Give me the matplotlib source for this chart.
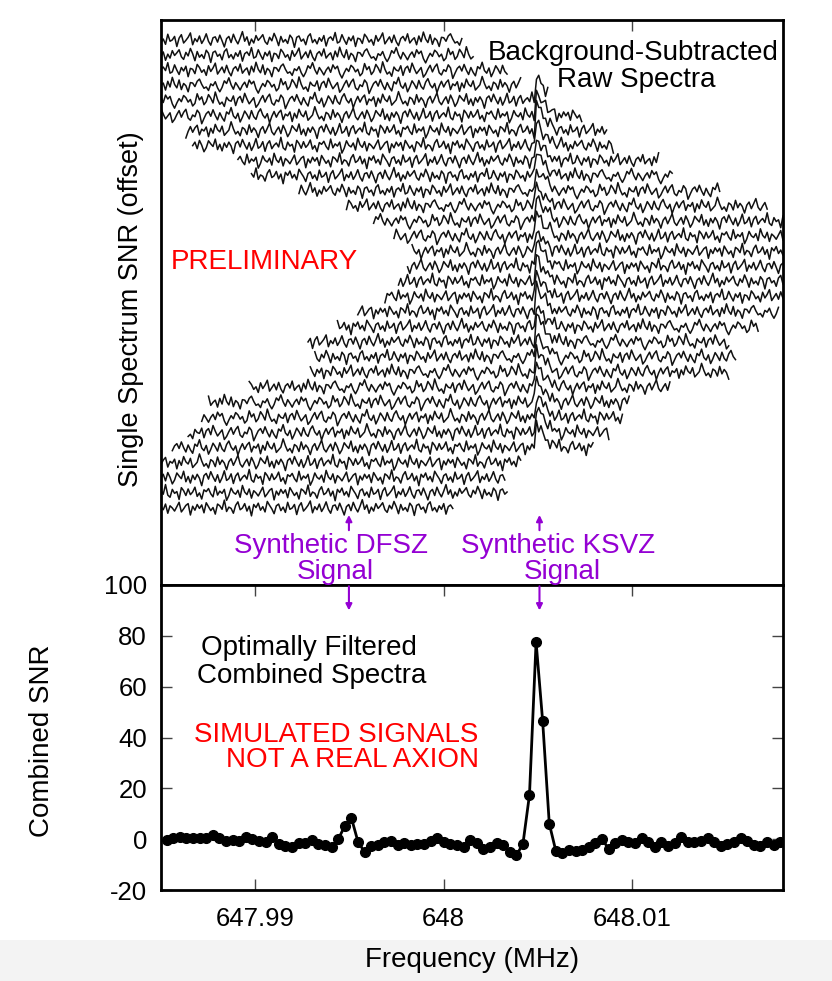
import numpy as np
import matplotlib
matplotlib.use("Agg")
from matplotlib import pyplot as plt
from matplotlib.patches import Rectangle

plt.rcParams['font.family'] = ['Liberation Sans', 'DejaVu Sans']
plt.rcParams['axes.unicode_minus'] = False

# ---------------- data ----------------
freq_lim = (647.985, 648.018)
freq_ticks = [647.99, 648.0, 648.01]
freq_tick_labels = ['647.99', '648', '648.01']
snr_ticks = [-20, 0, 20, 40, 60, 80, 100]

# raw spectra: centre frequency (MHz) of each single spectrum, top row first
spec_centres = [647.98980, 647.99044, 647.99224, 647.99298, 647.99435, 647.99620,
                647.99746, 647.99780, 648.00024, 648.00098, 648.00344, 648.00600,
                648.00739, 648.00850, 648.00950, 648.00920, 648.00880, 648.00800,
                648.00660, 648.00553, 648.00397, 648.00434, 648.00402, 648.00080,
                647.99868, 647.99828, 647.99759, 647.99680, 647.99287, 647.99208,
                647.99218, 647.98933]
spec_span = 0.0223        # MHz covered by one spectrum
spec_bin = 0.00012        # MHz per bin
spec_step = 5.0           # SNR offset between rows

# injected KSVZ line in each raw spectrum (relative strength per row)
ksvz_freq = 648.00492
ksvz_amp = [1.0, 1.0, 1.0, 1.0, 1.05, 0.95, 1.1, 1.0, 0.9, 1.05, 1.0, 0.95,
            1.1, 1.0, 0.92, 1.08, 1.0, 0.97, 1.03, 0.9, 1.1, 1.0, 0.95, 1.05,
            1.0, 0.93, 1.07, 1.0, 1.0, 1.0, 1.0, 1.0]
ksvz_shape = [8.0, 6.8, 5.5, 4.3, 3.3, 2.4, 1.7, 1.1, 0.7, 0.35, 0.1]

# single-spectrum noise (SNR x10), read bin by bin
noise_tenths = [
    5, -3, 9, 14, 2, -7, -4, -12, 3, -1, 8, -6, -15, -5, 10, 4, 17, 1, -9, 6,
    -2, -11, 0, 7, -5, 12, 3, 9, -8, -18, -6, 4, -3, 11, 6, -4, 2, -13, -7, 15,
    1, 8, -10, -3, 13, 5, -6, 19, 2, -9, -4, -14, 7, 0, -2, 10, -12, 4, 9, -5,
    16, 3, -8, -1, 6, -16, -9, 2, 11, -4, 7, 14, -6, -11, 1, -3, 12, 5, -19, -7,
    4, 9, -2, 13, 0, -10, 6, -5, -13, 8, 3, 18, -1, -7, 5, -15, -4, 10, 2, -8,
    11, -3, -9, 7, 15, 1, -6, 4, -17, -2, 9, -4, 6, 12, -10, 3, -1, 8, -14, 5,
    -6, 14, 2, -3, 10, -11, -5, 1, 20, 4, -8, -2, -12, 7, 3, -9, 13, -4, 6, -1,
    -16, 2, 9, -6, 5, 17, -3, -10, 0, 8, -7, 12, 1, -14, -5, 11, 4, -2, 15, -9,
    3, -12, 6, -4, 8, -1, -18, 5, 10, -3, 14, 2, -8, 7, -11, 0, 16, -6, -2, 9,
    -13, 4, 11, -7, 1, 6, -3, 19, -5, -10, 8, -1, 3, -15, 12, 5, -6, 9, -4, 2,
    13, -8, 0, -14, 7, 3, 10, -2, -9, 15, -5, 4, -1, 8, -17, -6, 11, 1, -3, 6,
    -10, 17, 2, -4, 9, -12, 5, 0, -7, 3, 13, -9, -2, 6, 10, -16, 4, -5, 8, -1,
    7, -11, 12, 3, -6, 1, -14, 9, 5, -3, 18, -8, 2, -1, -12, 6, 14, -4, 0, 10,
    -7, 4, -18, 8, 1, 11, -5, 3, -9, 15, 6, -2, -13, 5, 9, -6, 2, -10, 13, -3,
    0, 8, -15, 4, 12, -7, -1, 6, 16, -11, 3, -4, 9, -8, 1, 14, -3, -12, 5, 7,
    -5, 11, -2, -16, 3, 8, -6, 13, 0, -9, 4, 19, -3, 7, -12, 2, -7, 10, -1, 5,
    12, -4, -10, 6, -2, 15, 3, -13, 8, -5, 1, -8, 11, 4, -17, 6, 9, -3, 2, -11,
    8, 14, -6, 1, -9, 5, -3, 10, -14, 3, 7, -1, 17, -7, -4, 12, 0, -10, 6, -2,
    9, -15, 4, 2, -8, 13, 6, -5, 1, -12, 10, -3, 5, 16, -9, -1, 7, -6, 11, -4,
    -13, 3, 8, -2, 14, -7, 0, 5, -11, 9, -4, 18, 2, -6, 12, -10, 4, -1, -15, 6,
]

# combined, optimally filtered spectrum
comb_start = 647.9853
comb_step = 0.00035
comb_snr = [-0.4, 0.5, 0.8, 0.5, 0.5, 0.3, 0.3, 1.6, 0.3, -0.7,
            -0.4, -0.7, 0.9, 0.0, -0.7, -1.0, 0.8, -2.0, -2.7, -3.0,
            -1.4, -1.7, -0.4, -2.0, -2.4, -3.0, -0.1, 5.2, 8.4, -1.0,
            -5.0, -2.7, -2.4, -1.0, -0.8, -2.4, -1.4, -2.4, -2.0, -2.0,
            -0.8, 0.5, -1.0, -2.0, -2.4, -3.0, -0.4, -1.7, -3.7, -3.0,
            -1.4, -2.4, -5.0, -6.3, -2.0, 17.5, 77.6, 46.3, 6.1, -4.7,
            -5.6, -4.3, -4.7, -4.3, -3.0, -1.7, -0.1, -3.7, -1.7, -0.4,
            -1.3, -1.7, 0.3, -1.0, -3.0, -1.0, -2.7, -1.7, 0.8, -1.0,
            -1.0, -0.8, 0.3, -1.0, -2.7, -2.0, -1.0, 0.3, -0.7, -2.4,
            -2.7, -1.3, -2.4, -1.3]

dfsz_freq = 647.99497
ksvz_mark = 648.00508

# ---------------- figure ----------------
W, H = 832, 981
purple = '#9400d3'


def fx(x):
    return x / W


def fy(y):
    return 1 - y / H


fig = plt.figure(figsize=(W / 100, H / 100), dpi=100)
# page decoration below the plot
fig.patches.append(Rectangle((0, 0), 1, fy(940), transform=fig.transFigure,
                             facecolor='#f3f3f3', edgecolor='none', zorder=0))

ax_top = fig.add_axes([fx(161), fy(585), fx(783) - fx(161), fy(20) - fy(585)])
ax_bot = fig.add_axes([fx(161), fy(890), fx(783) - fx(161), fy(585) - fy(890)])

# --- raw spectra ---
noise = np.array(noise_tenths) / 10.0
n_rows = len(spec_centres)
ksvz_bin = int(round((ksvz_freq - 648.0) / spec_bin))
shape = np.array(ksvz_shape)
for k, (c, amp) in enumerate(zip(spec_centres, ksvz_amp)):
    n0 = int(round((c - spec_span / 2 - 648.0) / spec_bin))
    n1 = int(round((c + spec_span / 2 - 648.0) / spec_bin))
    n = np.arange(n0, n1 + 1)
    f = 648.0 + n * spec_bin
    y = noise[(n + 37 * k) % len(noise)] * 1.45
    j = n - ksvz_bin
    on = (j >= 0) & (j < len(shape))
    y[on] += amp * shape[j[on]]
    ax_top.plot(f, y + (n_rows - 1 - k) * spec_step, color='#111111', lw=1.1)

ax_top.set_xlim(*freq_lim)
ax_top.set_ylim(-25.5, (n_rows - 1) * spec_step + 6.6)
ax_top.set_xticks(freq_ticks)
ax_top.set_yticks([])
ax_top.tick_params(axis='x', direction='in', top=True, bottom=False,
                   labeltop=False, labelbottom=False, length=8, width=1, color='#444444')
for s in ax_top.spines.values():
    s.set_linewidth(2)

# --- combined spectrum ---
comb_freq = comb_start + comb_step * np.arange(len(comb_snr))
ax_bot.plot(comb_freq, comb_snr, color='black', lw=2, marker='o', ms=7)
ax_bot.set_xlim(*freq_lim)
ax_bot.set_ylim(-20, 100)
ax_bot.set_xticks(freq_ticks)
ax_bot.set_xticklabels(freq_tick_labels)
ax_bot.set_yticks(snr_ticks)
ax_bot.tick_params(direction='in', top=True, right=True, length=8, width=1,
                   color='#444444', labelsize=18.5)
ax_bot.tick_params(axis='x', pad=12)
ax_bot.tick_params(axis='y', pad=10)
for s in ax_bot.spines.values():
    s.set_linewidth(2)

# --- signal markers ---
for fm in (dfsz_freq, ksvz_mark):
    ax_top.annotate('', xy=(fm, 0.124), xytext=(fm, 0.097),
                    xycoords=('data', 'axes fraction'),
                    textcoords=('data', 'axes fraction'),
                    arrowprops=dict(arrowstyle='-|>', color=purple, lw=1.5,
                                    mutation_scale=9, shrinkA=0, shrinkB=0))
    ax_bot.annotate('', xy=(fm, 90), xytext=(fm, 99.5),
                    arrowprops=dict(arrowstyle='-|>', color=purple, lw=1.5,
                                    mutation_scale=9, shrinkA=0, shrinkB=0))

# --- text ---
fs = 20
labels = [
    ('Background-Subtracted', 633, 53, 'black'),
    ('Raw Spectra', 636, 80, 'black'),
    ('PRELIMINARY', 264, 262, 'red'),
    ('Synthetic DFSZ', 331, 546, purple),
    ('Signal', 335, 572, purple),
    ('Synthetic KSVZ', 558, 546, purple),
    ('Signal', 562, 572, purple),
    ('Optimally Filtered', 309, 648, 'black'),
    ('Combined Spectra', 312, 676, 'black'),
    ('SIMULATED SIGNALS', 336, 735, 'red'),
    ('NOT A REAL AXION', 353, 760, 'red'),
]
for txt, x, y, col in labels:
    fig.text(fx(x), fy(y), txt, ha='center', va='center', color=col, fontsize=fs)

fig.text(fx(472), fy(960), 'Frequency (MHz)', ha='center', va='center', fontsize=fs)
fig.text(fx(131), fy(309), 'Single Spectrum SNR (offset)', ha='center', va='center',
         rotation=90, fontsize=19.5)
fig.text(fx(42), fy(741), 'Combined SNR', ha='center', va='center',
         rotation=90, fontsize=fs)

fig.savefig('out.png', dpi=100)
